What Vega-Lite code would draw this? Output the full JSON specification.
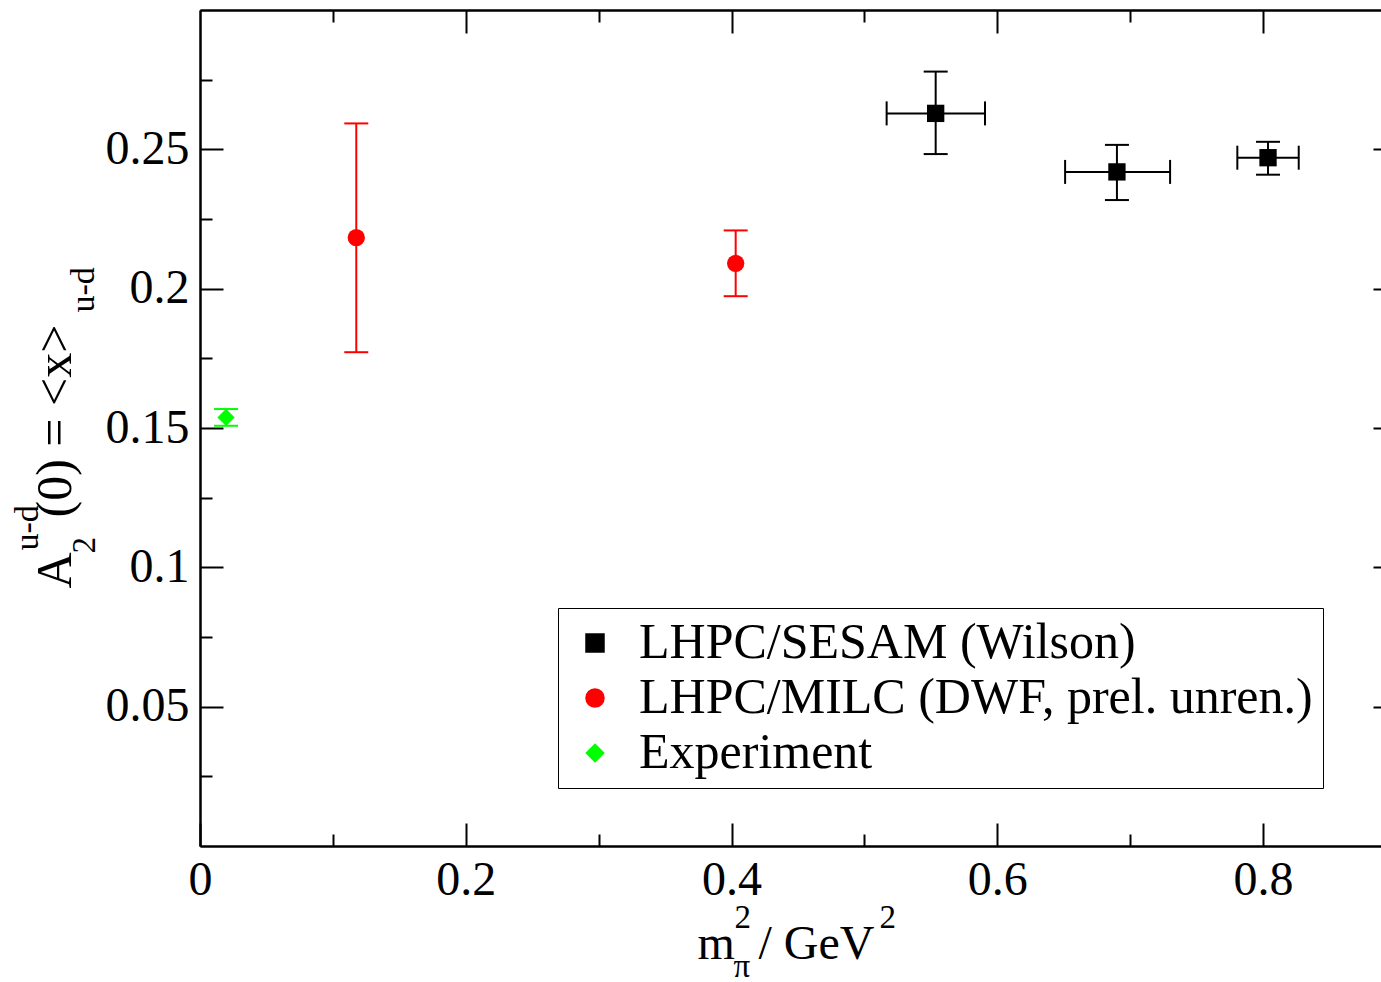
{
  "$schema": "https://vega.github.io/schema/vega-lite/v6.json",
  "width": 1181,
  "height": 836,
  "autosize": {"type": "none"},
  "padding": {"left": 200, "top": 10, "right": 0, "bottom": 136},
  "background": "white",
  "data": {
    "values": [
      {"series": "LHPC/SESAM (Wilson)", "x": 0.5536, "xlo": 0.5167, "xhi": 0.5907, "y": 0.2629, "ylo": 0.2483, "yhi": 0.2779},
      {"series": "LHPC/SESAM (Wilson)", "x": 0.6900, "xlo": 0.6510, "xhi": 0.7300, "y": 0.2419, "ylo": 0.2318, "yhi": 0.2516},
      {"series": "LHPC/SESAM (Wilson)", "x": 0.8037, "xlo": 0.7806, "xhi": 0.8268, "y": 0.2470, "ylo": 0.2409, "yhi": 0.2527},
      {"series": "LHPC/MILC (DWF, prel. unren.)", "x": 0.1176, "xlo": 0.1176, "xhi": 0.1176, "y": 0.2183, "ylo": 0.1772, "yhi": 0.2593},
      {"series": "LHPC/MILC (DWF, prel. unren.)", "x": 0.4031, "xlo": 0.4031, "xhi": 0.4031, "y": 0.2091, "ylo": 0.1973, "yhi": 0.2209},
      {"series": "Experiment", "x": 0.0196, "xlo": 0.0196, "xhi": 0.0196, "y": 0.1538, "ylo": 0.1508, "yhi": 0.1568}
    ]
  },
  "resolve": {"axis": {"x": "independent", "y": "independent"}, "legend": {"color": "independent", "shape": "independent"}},
  "config": {
    "view": {"stroke": null},
    "font": "Liberation Serif",
    "axis": {
      "grid": false,
      "domainColor": "black",
      "domainWidth": 2,
      "tickColor": "black",
      "tickWidth": 2,
      "labelFont": "Liberation Serif",
      "labelFontSize": 48,
      "labelColor": "black",
      "labelFlush": false,
      "labelOverlap": false,
      "titleFont": "Liberation Serif",
      "titleFontWeight": "normal",
      "titleColor": "black",
      "titleAlign": "left",
      "titleBaseline": "alphabetic",
      "titlePadding": 0
    }
  },
  "layer": [
    {
      "mark": {"type": "rule", "strokeWidth": 2},
      "encoding": {
        "x": {"field": "x", "type": "quantitative",
          "scale": {"domain": [0, 0.9], "range": [0, 1196], "nice": false, "zero": false},
          "axis": {"orient": "bottom", "values": [0, 0.2, 0.4, 0.6, 0.8], "format": "~g", "tickSize": -23, "labelPadding": 33,
            "title": "m", "titleFontSize": 48, "titleX": 497, "titleY": 112}},
        "y": {"field": "ylo", "type": "quantitative",
          "scale": {"domain": [0, 0.3], "nice": false, "zero": false},
          "axis": {"orient": "left", "values": [0.05, 0.1, 0.15, 0.2, 0.25], "format": "~g", "tickSize": -23, "labelPadding": 34,
            "title": "A", "titleFontSize": 50, "titleAngle": -90, "titleX": -130, "titleY": 578}},
        "y2": {"field": "yhi"},
        "color": {"field": "series", "type": "nominal",
          "scale": {"domain": ["LHPC/SESAM (Wilson)", "LHPC/MILC (DWF, prel. unren.)", "Experiment"], "range": ["#000000", "#ff0000", "#00ff00"]},
          "legend": null}
      }
    },
    {
      "mark": {"type": "tick", "orient": "horizontal", "size": 24, "thickness": 2, "opacity": 1},
      "encoding": {
        "x": {"field": "x", "type": "quantitative",
          "scale": {"domain": [0, 0.9], "range": [0, 1196], "nice": false, "zero": false},
          "axis": {"orient": "bottom", "values": [0.1, 0.3, 0.5, 0.7], "tickSize": -12, "labels": false,
            "title": "/ GeV", "titleFontSize": 48, "titleX": 558, "titleY": 112}},
        "y": {"field": "ylo", "type": "quantitative",
          "scale": {"domain": [0, 0.3], "nice": false, "zero": false},
          "axis": {"orient": "left", "values": [0.025, 0.075, 0.125, 0.175, 0.225, 0.275], "tickSize": -12, "labels": false,
            "title": "(0) = <x>", "titleFontSize": 50, "titleAngle": -90, "titleX": -130, "titleY": 507}},
        "color": {"field": "series", "type": "nominal", "legend": null}
      }
    },
    {
      "mark": {"type": "tick", "orient": "horizontal", "size": 24, "thickness": 2, "opacity": 1},
      "encoding": {
        "x": {"field": "x", "type": "quantitative",
          "scale": {"domain": [0, 0.9], "range": [0, 1196], "nice": false, "zero": false},
          "axis": {"orient": "top", "values": [0.2, 0.4, 0.6, 0.8], "tickSize": -23, "labels": false,
            "title": "2", "titleFontSize": 33, "titleX": 534, "titleY": 917}},
        "y": {"field": "yhi", "type": "quantitative",
          "scale": {"domain": [0, 0.3], "nice": false, "zero": false},
          "axis": {"orient": "right", "offset": 15, "values": [0.05, 0.1, 0.15, 0.2, 0.25], "tickSize": -23, "labels": false,
            "title": "2", "titleFontSize": 33, "titleAngle": -90, "titleX": -1302, "titleY": 543}},
        "color": {"field": "series", "type": "nominal", "legend": null}
      }
    },
    {
      "transform": [{"filter": "datum.series === 'LHPC/SESAM (Wilson)'"}],
      "mark": {"type": "rule", "strokeWidth": 2},
      "encoding": {
        "x": {"field": "xlo", "type": "quantitative",
          "scale": {"domain": [0, 0.9], "range": [0, 1196], "nice": false, "zero": false},
          "axis": {"orient": "top", "values": [0.1, 0.3, 0.5, 0.7], "tickSize": -12, "labels": false,
            "title": "π", "titleFontSize": 33, "titleX": 533, "titleY": 966}},
        "x2": {"field": "xhi"},
        "y": {"field": "y", "type": "quantitative",
          "scale": {"domain": [0, 0.3], "nice": false, "zero": false},
          "axis": {"orient": "right", "offset": 15, "values": [0.025, 0.075, 0.125, 0.175, 0.225, 0.275], "tickSize": -12, "labels": false,
            "title": "u-d", "titleFontSize": 34, "titleAngle": -90, "titleX": -1359, "titleY": 540}},
        "color": {"field": "series", "type": "nominal", "legend": null}
      }
    },
    {
      "transform": [{"filter": "datum.series === 'LHPC/SESAM (Wilson)'"}],
      "mark": {"type": "tick", "orient": "vertical", "size": 24, "thickness": 2, "opacity": 1},
      "encoding": {
        "x": {"field": "xlo", "type": "quantitative",
          "scale": {"domain": [0, 0.9], "range": [0, 1196], "nice": false, "zero": false},
          "axis": {"orient": "bottom", "domain": false, "ticks": false, "labels": false,
            "title": "2", "titleFontSize": 33, "titleX": 679, "titleY": 81}},
        "y": {"field": "y", "type": "quantitative",
          "scale": {"domain": [0, 0.3], "nice": false, "zero": false},
          "axis": {"orient": "left", "domain": false, "ticks": false, "labels": false,
            "title": "u-d", "titleFontSize": 34, "titleAngle": -90, "titleX": -107, "titleY": 302}},
        "color": {"field": "series", "type": "nominal", "legend": null}
      }
    },
    {
      "transform": [{"filter": "datum.series === 'LHPC/SESAM (Wilson)'"}],
      "mark": {"type": "tick", "orient": "vertical", "size": 24, "thickness": 2, "opacity": 1},
      "encoding": {
        "x": {"field": "xhi", "type": "quantitative", "axis": null,
          "scale": {"domain": [0, 0.9], "range": [0, 1196], "nice": false, "zero": false}},
        "y": {"field": "y", "type": "quantitative", "axis": null,
          "scale": {"domain": [0, 0.3], "nice": false, "zero": false}},
        "color": {"field": "series", "type": "nominal", "legend": null}
      }
    },
    {
      "mark": {"type": "point", "filled": true, "opacity": 1, "size": 300},
      "encoding": {
        "x": {"field": "x", "type": "quantitative", "axis": null,
          "scale": {"domain": [0, 0.9], "range": [0, 1196], "nice": false, "zero": false}},
        "y": {"field": "y", "type": "quantitative", "axis": null,
          "scale": {"domain": [0, 0.3], "nice": false, "zero": false}},
        "color": {"field": "series", "type": "nominal",
          "legend": {"title": null, "orient": "none", "legendX": 358, "legendY": 598,
            "labelFont": "Liberation Serif", "labelFontSize": 50, "labelColor": "black", "labelLimit": 1000,
            "symbolSize": 380, "symbolOffset": 2, "labelOffset": 19, "padding": 10, "rowPadding": 5,
            "strokeColor": "black", "fillColor": "white", "symbolStrokeWidth": 0, "symbolOpacity": 1}},
        "shape": {"field": "series", "type": "nominal",
          "scale": {"domain": ["LHPC/SESAM (Wilson)", "LHPC/MILC (DWF, prel. unren.)", "Experiment"], "range": ["square", "circle", "diamond"]},
          "legend": {"title": null, "orient": "none", "legendX": 358, "legendY": 598,
            "labelFont": "Liberation Serif", "labelFontSize": 50, "labelColor": "black", "labelLimit": 1000,
            "symbolSize": 380, "symbolOffset": 2, "labelOffset": 19, "padding": 10, "rowPadding": 5,
            "strokeColor": "black", "fillColor": "white", "symbolStrokeWidth": 0, "symbolOpacity": 1}}
      }
    }
  ]
}
